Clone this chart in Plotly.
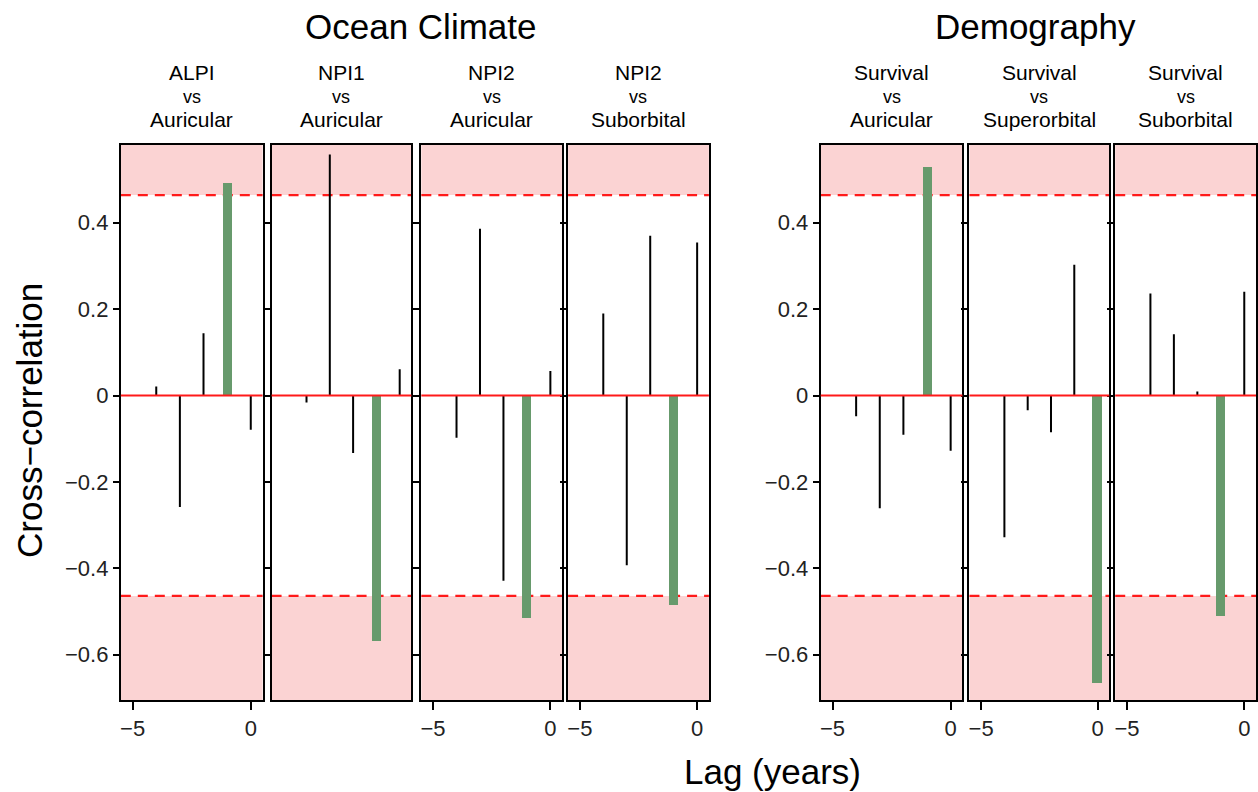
import plotly.graph_objects as go

# ---------------- data ----------------
lags = [-4, -3, -2, -1, 0]

alpi_auricular = [0.021, -0.258, 0.144, 0.492, -0.079]
npi1_auricular = [-0.016, 0.558, -0.133, -0.569, 0.061]
npi2_auricular = [-0.098, 0.386, -0.429, -0.514, 0.057]
npi2_suborbital = [0.190, -0.393, 0.370, -0.486, 0.354]
survival_auricular = [-0.048, -0.261, -0.091, 0.529, -0.128]
survival_superorbital = [-0.328, -0.034, -0.085, 0.303, -0.666]
survival_suborbital = [0.236, 0.142, 0.009, -0.511, 0.240]

series = [alpi_auricular, npi1_auricular, npi2_auricular, npi2_suborbital,
          survival_auricular, survival_superorbital, survival_suborbital]
highlight_lag = [-1, -1, -1, -1, -1, 0, -1]
title_top = ["ALPI", "NPI1", "NPI2", "NPI2", "Survival", "Survival", "Survival"]
title_bottom = ["Auricular", "Auricular", "Auricular", "Suborbital",
                "Auricular", "Superorbital", "Suborbital"]
group_titles = ["Ocean Climate", "Demography"]
threshold = 0.464
y_ticks = [-0.6, -0.4, -0.2, 0, 0.2, 0.4]
x_ticks = [-5, 0]
y_lim = [-0.705, 0.58]
x_lim = [-5.5, 0.5]

# ---------------- layout geometry ----------------
W, H = 1258, 792
panel_px = [(120, 262), (271, 411), (421, 562), (568, 709),
            (821, 963), (970, 1110), (1116, 1257)]
top_px, bot_px = 145, 700
ydom = [1 - bot_px / H, 1 - top_px / H]

FONT = "Liberation Sans"
GREEN = "#679A6C"
PINK = "#FBD3D3"
RED = "#FF1A1A"

fig = go.Figure()
shapes = []
annotations = []
layout_axes = {}

for i, vals in enumerate(series):
    n = "" if i == 0 else str(i + 1)
    xa, ya = "x" + n, "y" + n
    hl = highlight_lag[i]

    xs, ys = [], []
    for lag, v in zip(lags, vals):
        if lag == hl:
            continue
        xs += [lag, lag, None]
        ys += [0, v, None]
    fig.add_trace(go.Scatter(x=xs, y=ys, mode="lines",
                             line=dict(color="black", width=2),
                             xaxis=xa, yaxis=ya, showlegend=False, hoverinfo="skip"))
    fig.add_trace(go.Bar(x=[hl], y=[vals[lags.index(hl)]], width=0.4,
                         marker=dict(color=GREEN, line_width=0),
                         xaxis=xa, yaxis=ya, showlegend=False))

    # significance bands
    shapes.append(dict(type="rect", xref=xa + " domain", yref=ya, x0=0, x1=1,
                       y0=threshold, y1=y_lim[1], fillcolor=PINK, line_width=0, layer="below"))
    shapes.append(dict(type="rect", xref=xa + " domain", yref=ya, x0=0, x1=1,
                       y0=y_lim[0], y1=-threshold, fillcolor=PINK, line_width=0, layer="below"))
    for t in (threshold, -threshold):
        shapes.append(dict(type="line", xref=xa + " domain", yref=ya, x0=0, x1=1,
                           y0=t, y1=t, line=dict(color=RED, width=2.2, dash="10px,7px"),
                           layer="below"))
    shapes.append(dict(type="line", xref=xa + " domain", yref=ya, x0=0, x1=1,
                       y0=0, y1=0, line=dict(color=RED, width=2), layer="above"))

    x0, x1 = panel_px[i]
    show_x = i != 1
    layout_axes["xaxis" + n] = dict(
        domain=[x0 / W, x1 / W], range=x_lim, anchor=ya,
        tickvals=x_ticks if show_x else [], ticks="outside" if show_x else "",
        ticklen=8, tickwidth=1.8, tickcolor="black",
        showticklabels=show_x, showline=True, linecolor="black", linewidth=2,
        mirror=True, showgrid=False, zeroline=False,
        tickfont=dict(family=FONT, size=22, color="#222222"),
    )
    show_y = i in (0, 4)
    layout_axes["yaxis" + n] = dict(
        domain=ydom, range=y_lim, anchor=xa,
        tickvals=y_ticks, ticks="outside", ticklen=6, tickwidth=1.8, tickcolor="black",
        showticklabels=show_y, showline=True, linecolor="black", linewidth=2,
        mirror=True, showgrid=False, zeroline=False,
        tickfont=dict(family=FONT, size=22, color="#222222"),
    )

    cx = (x0 + x1) / 2 / W
    for txt, py, fs in ((title_top[i], 72, 21), ("vs", 97, 18), (title_bottom[i], 120, 21)):
        annotations.append(dict(text=txt, x=cx, y=1 - py / H, xref="paper", yref="paper",
                                xanchor="center", yanchor="middle", showarrow=False,
                                font=dict(family=FONT, size=fs, color="black")))

annotations.append(dict(text=group_titles[0], x=420 / W, y=1 - 27 / H, xref="paper", yref="paper",
                        showarrow=False, xanchor="center", yanchor="middle",
                        font=dict(family=FONT, size=35, color="black")))
annotations.append(dict(text=group_titles[1], x=1036 / W, y=1 - 27 / H, xref="paper", yref="paper",
                        showarrow=False, xanchor="center", yanchor="middle",
                        font=dict(family=FONT, size=35, color="black")))
annotations.append(dict(text="Cross\u2212correlation", x=28 / W, y=1 - 420 / H, xref="paper",
                        yref="paper", showarrow=False, textangle=-90,
                        xanchor="center", yanchor="middle",
                        font=dict(family=FONT, size=35, color="black")))
annotations.append(dict(text="Lag (years)", x=773 / W, y=1 - 771 / H, xref="paper", yref="paper",
                        showarrow=False, xanchor="center", yanchor="middle",
                        font=dict(family=FONT, size=35, color="black")))

fig.update_layout(
    width=W, height=H, margin=dict(l=0, r=0, t=0, b=0),
    paper_bgcolor="white", plot_bgcolor="white",
    shapes=shapes, annotations=annotations, showlegend=False, bargap=0,
    **layout_axes,
)

fig.write_html("out.html")
